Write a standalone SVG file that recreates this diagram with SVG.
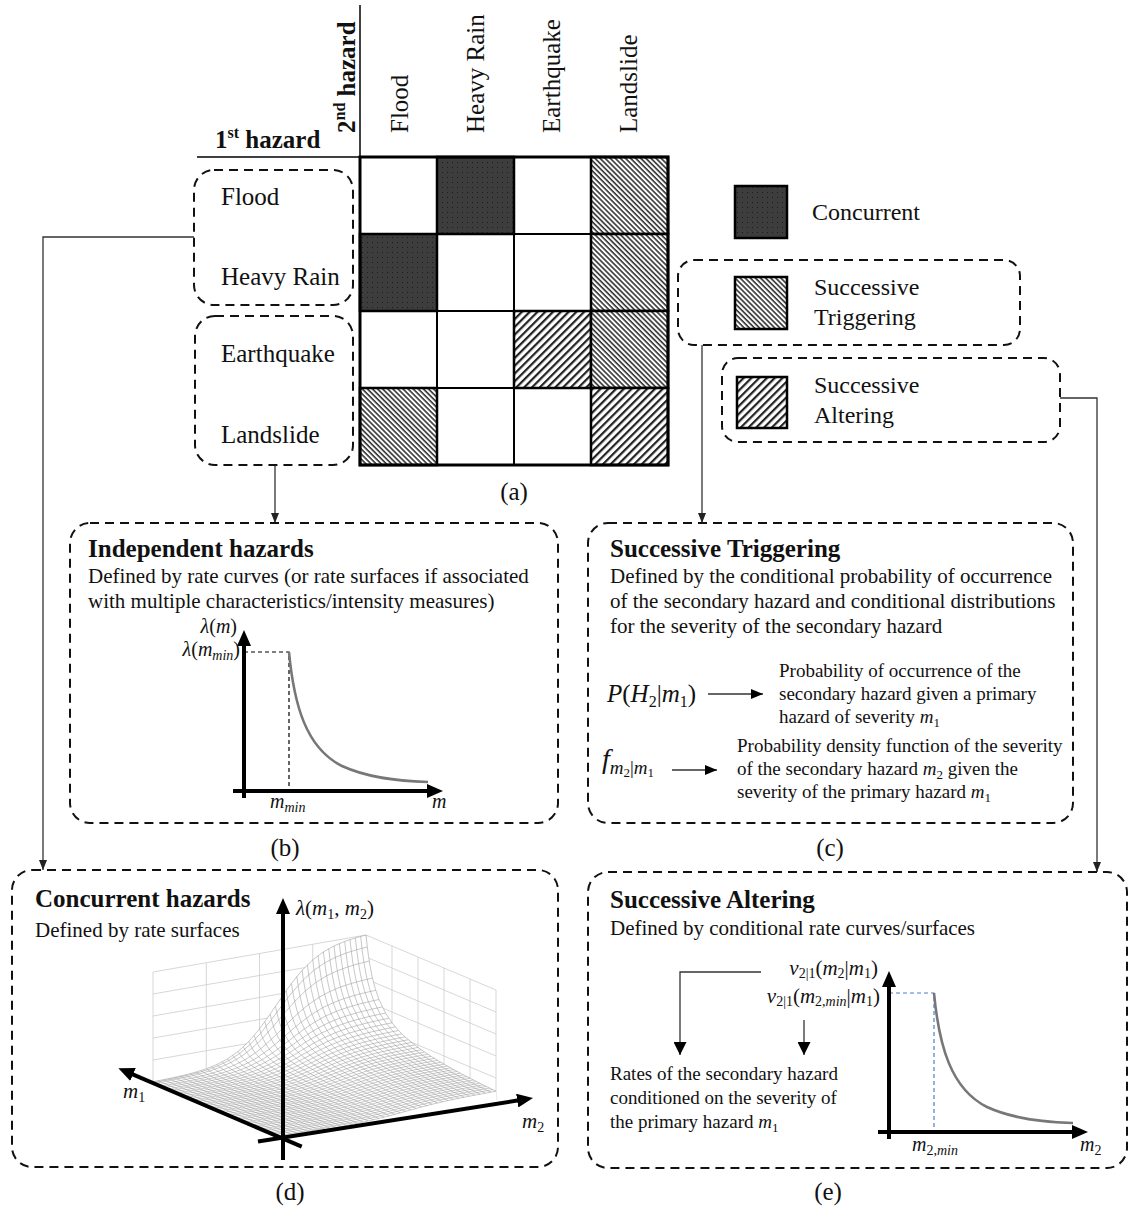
<svg xmlns="http://www.w3.org/2000/svg" width="1130" height="1209" viewBox="0 0 1130 1209">
<style>
text { font-family: "Liberation Serif", "Times New Roman", serif; fill: #111; }
.lbl { font-size: 25px; }
.leg { font-size: 24px; }
.ttl { font-size: 25px; font-weight: bold; }
.desc { font-size: 21px; }
.sm { font-size: 19px; }
.it { font-style: italic; }
.box { fill: none; stroke: #111; stroke-width: 2; stroke-dasharray: 9 6; }
.conn { fill: none; stroke: #333; stroke-width: 1.3; }
.axis { fill: none; stroke: #000; stroke-width: 4; }
.rule { fill: none; stroke: #000; stroke-width: 1.5; }
.cell { stroke: #000; stroke-width: 2.5; }
.grid { fill: none; stroke: #000; stroke-width: 2; }
.wall { fill: none; stroke: #cdcdcd; stroke-width: 0.8; }
.mesh { fill: none; stroke: #9a9a9a; }
.curve { fill: none; stroke: #777; stroke-width: 2.6; }
.guide { fill: none; stroke: #000; stroke-width: 1.2; stroke-dasharray: 4 3; }
.guideBlue { fill: none; stroke: #4a7fd4; stroke-width: 1.2; stroke-dasharray: 4 3; }
</style>
<defs>
  <pattern id="pDots" width="5" height="5" patternUnits="userSpaceOnUse">
    <rect width="5" height="5" fill="#3d3d3d"/>
    <rect x="2" y="2" width="1" height="1" fill="#1c1c1c"/>
  </pattern>
  <pattern id="pTrig" width="3.6" height="3.6" patternUnits="userSpaceOnUse" patternTransform="rotate(45)">
    <rect width="3.6" height="3.6" fill="#fff"/>
    <rect width="3.6" height="1.6" fill="#333"/>
  </pattern>
  <pattern id="pAlt" width="5.5" height="5.5" patternUnits="userSpaceOnUse" patternTransform="rotate(-45)">
    <rect width="5.5" height="5.5" fill="#fff"/>
    <rect width="5.5" height="2.2" fill="#222"/>
  </pattern>
  <marker id="arr" markerUnits="userSpaceOnUse" markerWidth="10" markerHeight="8" refX="10" refY="4" orient="auto">
    <path d="M0,0 L10,4 L0,8 z" fill="#222"/>
  </marker>
  <marker id="arrM" markerUnits="userSpaceOnUse" markerWidth="12" markerHeight="10" refX="12" refY="5" orient="auto">
    <path d="M0,0 L12,5 L0,10 z" fill="#000"/>
  </marker>
  <marker id="arrL" markerUnits="userSpaceOnUse" markerWidth="13" markerHeight="13" refX="13" refY="6.5" orient="auto">
    <path d="M0,0 L13,6.5 L0,13 z" fill="#000"/>
  </marker>
  <marker id="axHead" markerUnits="userSpaceOnUse" markerWidth="16" markerHeight="14" refX="8" refY="7" orient="auto">
    <path d="M0,0 L16,7 L0,14 z" fill="#000"/>
  </marker>
  <!-- profile along m1 (u, g(u)) and along m2 (v, f(v)) in unit coordinates -->
  <path id="gl" fill="none" vector-effect="non-scaling-stroke" stroke-width="0.55" d="M0,.0795 L.1,.0876 L.2,.0975 L.3,.1099 L.4,.1259 L.5,.1473 L.6,.1776 L.7,.2236 L.75,.2568 L.8,.3017 L.85,.3655 L.9,.4635 L.93,.5524 L.95,.6334 L.96,.6835 L.97,.7423 L.98,.812 L.99,.8963 L1,1"/>
  <path id="fl" fill="none" vector-effect="non-scaling-stroke" stroke-width="0.55" d="M0,.00307 L.05,.00504 L.1,.00828 L.15,.01358 L.2,.02221 L.25,.0361 L.3,.0582 L.35,.09249 L.4,.1439 L.45,.2174 L.5,.3147 L.55,.432 L.6,.5581 L.65,.6782 L.7,.78 L.75,.8582 L.8,.9137 L.85,.9511 L.9,.9752 L.95,.9906 L1,1"/>
</defs>

<rect width="1130" height="1209" fill="#fff"/>

<!-- header of the interaction matrix -->
<g id="header">
  <line class="rule" x1="360" y1="5" x2="360" y2="157"/>
  <line class="rule" x1="197" y1="157" x2="360" y2="157"/>
  <text class="ttl" x="215" y="148">1<tspan font-size="16" dy="-10">st</tspan><tspan dy="10"> hazard</tspan></text>
  <text class="ttl" transform="translate(355,133) rotate(-90)">2<tspan font-size="16" dy="-10">nd</tspan><tspan dy="10"> hazard</tspan></text>
  <text class="lbl" transform="translate(408,133) rotate(-90)">Flood</text>
  <text class="lbl" transform="translate(484,133) rotate(-90)">Heavy Rain</text>
  <text class="lbl" transform="translate(560,133) rotate(-90)">Earthquake</text>
  <text class="lbl" transform="translate(637,133) rotate(-90)">Landslide</text>
</g>

<!-- interaction matrix -->
<g id="matrix">
  <rect class="cell" x="437" y="157" width="77" height="77" fill="url(#pDots)"/>
  <rect class="cell" x="591" y="157" width="77" height="77" fill="url(#pTrig)"/>
  <rect class="cell" x="360" y="234" width="77" height="77" fill="url(#pDots)"/>
  <rect class="cell" x="591" y="234" width="77" height="77" fill="url(#pTrig)"/>
  <rect class="cell" x="514" y="311" width="77" height="77" fill="url(#pAlt)"/>
  <rect class="cell" x="591" y="311" width="77" height="77" fill="url(#pTrig)"/>
  <rect class="cell" x="360" y="388" width="77" height="77" fill="url(#pTrig)"/>
  <rect class="cell" x="591" y="388" width="77" height="77" fill="url(#pAlt)"/>
  <path class="grid" d="M437,157 V465 M514,157 V465 M591,157 V465 M360,234 H668 M360,311 H668 M360,388 H668"/>
  <rect x="360" y="157" width="308" height="308" fill="none" stroke="#000" stroke-width="3"/>
  <text class="lbl" x="514" y="500" text-anchor="middle">(a)</text>
</g>

<g id="rows-hydro">
  <rect class="box" x="194" y="170" width="159" height="135" rx="20"/>
  <text class="lbl" x="221" y="205">Flood</text>
  <text class="lbl" x="221" y="285">Heavy Rain</text>
</g>
<g id="rows-geo">
  <rect class="box" x="195" y="316" width="158" height="149" rx="20"/>
  <text class="lbl" x="221" y="362">Earthquake</text>
  <text class="lbl" x="221" y="443">Landslide</text>
</g>

<!-- legend -->
<g id="legend-concurrent">
  <rect class="cell" x="735" y="186" width="52" height="52" fill="url(#pDots)"/>
  <text class="leg" x="812" y="220">Concurrent</text>
</g>
<g id="legend-triggering">
  <rect class="box" x="678" y="260" width="342" height="85" rx="16"/>
  <rect class="cell" x="735" y="277" width="52" height="52" fill="url(#pTrig)"/>
  <text class="leg" x="814" y="295">Successive</text>
  <text class="leg" x="814" y="325">Triggering</text>
</g>
<g id="legend-altering">
  <rect class="box" x="722" y="358" width="338" height="84" rx="16"/>
  <rect class="cell" x="737" y="377" width="50" height="51" fill="url(#pAlt)"/>
  <text class="leg" x="814" y="393">Successive</text>
  <text class="leg" x="814" y="423">Altering</text>
</g>

<!-- connectors -->
<g id="connectors">
  <polyline class="conn" points="194,237 43,237 43,870" marker-end="url(#arr)"/>
  <polyline class="conn" points="275,466 275,523" marker-end="url(#arr)"/>
  <polyline class="conn" points="702,345 702,523" marker-end="url(#arr)"/>
  <polyline class="conn" points="1060,398 1097,398 1097,872" marker-end="url(#arr)"/>
</g>

<!-- (b) independent hazards -->
<g id="panel-b">
  <rect class="box" x="70" y="523" width="488" height="300" rx="20"/>
  <text class="ttl" x="88" y="557">Independent hazards</text>
  <text class="desc" x="88" y="583">Defined by rate curves (or rate surfaces if associated</text>
  <text class="desc" x="88" y="608">with multiple characteristics/intensity measures)</text>
  <path class="guide" d="M244,652 H289 V791"/>
  <path class="curve" d="M289,652 C294,705 306,748 342,766 C368,778 398,781 428,782"/>
  <line class="axis" x1="244" y1="798" x2="244" y2="638" marker-end="url(#axHead)"/>
  <line class="axis" x1="233" y1="791" x2="435" y2="791" marker-end="url(#axHead)"/>
  <text font-size="20" x="237" y="633" text-anchor="end"><tspan class="it">λ</tspan>(<tspan class="it">m</tspan>)</text>
  <text font-size="20" x="240" y="656" text-anchor="end"><tspan class="it">λ</tspan>(<tspan class="it">m</tspan><tspan class="it" font-size="14" dy="4">min</tspan><tspan dy="-4">)</tspan></text>
  <text font-size="20" x="270" y="808"><tspan class="it">m</tspan><tspan class="it" font-size="14" dy="4">min</tspan></text>
  <text font-size="20" x="432" y="808" class="it">m</text>
  <text class="lbl" x="285" y="856" text-anchor="middle">(b)</text>
</g>

<!-- (c) successive triggering -->
<g id="panel-c">
  <rect class="box" x="588" y="523" width="485" height="300" rx="20"/>
  <text class="ttl" x="610" y="557">Successive Triggering</text>
  <text class="desc" x="610" y="583">Defined by the conditional probability of occurrence</text>
  <text class="desc" x="610" y="608">of the secondary hazard and conditional distributions</text>
  <text class="desc" x="610" y="633">for the severity of the secondary hazard</text>
  <text font-size="25" x="607" y="702"><tspan class="it">P</tspan>(<tspan class="it">H</tspan><tspan font-size="16" dy="5">2</tspan><tspan dy="-5">|</tspan><tspan class="it">m</tspan><tspan font-size="16" dy="5">1</tspan><tspan dy="-5">)</tspan></text>
  <line class="conn" x1="708" y1="694" x2="763" y2="694" stroke="#000" marker-end="url(#arrM)"/>
  <text class="sm" x="779" y="677">Probability of occurrence of the</text>
  <text class="sm" x="779" y="700">secondary hazard given a primary</text>
  <text class="sm" x="779" y="723">hazard of severity <tspan class="it">m</tspan><tspan font-size="13" dy="4">1</tspan></text>
  <text font-size="28" x="602" y="768"><tspan class="it">f</tspan><tspan font-size="19" dy="6"><tspan class="it">m</tspan><tspan font-size="13" dy="3">2</tspan><tspan dy="-3">|</tspan><tspan class="it">m</tspan><tspan font-size="13" dy="3">1</tspan></tspan></text>
  <line class="conn" x1="672" y1="770" x2="717" y2="770" stroke="#000" marker-end="url(#arrM)"/>
  <text class="sm" x="737" y="752">Probability density function of the severity</text>
  <text class="sm" x="737" y="775">of the secondary hazard <tspan class="it">m</tspan><tspan font-size="13" dy="4">2</tspan><tspan dy="-4"> given the</tspan></text>
  <text class="sm" x="737" y="798">severity of the primary hazard <tspan class="it">m</tspan><tspan font-size="13" dy="4">1</tspan></text>
  <text class="lbl" x="830" y="856" text-anchor="middle">(c)</text>
</g>

<!-- (d) concurrent hazards: rate surface over (m1, m2) -->
<g id="panel-d">
  <rect class="box" x="12" y="870" width="546" height="297" rx="20"/>
  <text class="ttl" x="35" y="907">Concurrent hazards</text>
  <text class="desc" x="35" y="937">Defined by rate surfaces</text>

  <!-- back walls -->
  <g class="wall">
    <path d="M153,1082 V972 L366,935 V1045 M206.25,1072.75 v-110 M259.5,1063.5 v-110 M312.75,1054.25 v-110 M153,1060 L366,1023 M153,1038 L366,1001 M153,1016 L366,979 M153,994 L366,957"/>
    <path d="M366,935 L496,990 V1100 M392,1056 v-110 M418,1067 v-110 M444,1078 v-110 M470,1089 v-110 M366,1023 L496,1078 M366,1001 L496,1056 M366,979 L496,1034 M366,957 L496,1012"/>
  </g>
  <!-- surface silhouette hides the wall grid behind it -->
  <path fill="#fff" d="M283,1137 L153,1082 L153,1081.7 L174.3,1077.4 L195.6,1072.2 L216.9,1064.5 L238.2,1051.4 L248.9,1041.5 L259.5,1028.9 L270.2,1014.2 L280.8,998.4 L291.5,983.4 L302.1,970.3 L312.8,959.9 L323.4,951.9 L334.1,946 L344.7,941.4 L355.4,937.9 L366,935 L368.6,956.8 L371.2,972 L375.1,988.1 L379,999.5 L385.5,1013.1 L392,1022.8 L398.5,1030.5 L405,1036.9 L418,1047.5 L431,1056.3 L444,1064.2 L457,1071.4 L470,1078.3 L483,1084.9 L496,1091.3 L496,1100 Z"/>
  <!-- mesh lines of constant m2 -->
  <g class="mesh">
    <use href="#gl" transform="matrix(-130 -55 0 -.337 283 1137)"/>
    <use href="#gl" transform="matrix(-130 -55 0 -.432 288.325 1136.075)"/>
    <use href="#gl" transform="matrix(-130 -55 0 -.555 293.65 1135.15)"/>
    <use href="#gl" transform="matrix(-130 -55 0 -.711 298.975 1134.225)"/>
    <use href="#gl" transform="matrix(-130 -55 0 -.911 304.3 1133.3)"/>
    <use href="#gl" transform="matrix(-130 -55 0 -1.168 309.625 1132.375)"/>
    <use href="#gl" transform="matrix(-130 -55 0 -1.494 314.95 1131.45)"/>
    <use href="#gl" transform="matrix(-130 -55 0 -1.912 320.275 1130.525)"/>
    <use href="#gl" transform="matrix(-130 -55 0 -2.443 325.6 1129.6)"/>
    <use href="#gl" transform="matrix(-130 -55 0 -3.118 330.925 1128.675)"/>
    <use href="#gl" transform="matrix(-130 -55 0 -3.971 336.25 1127.75)"/>
    <use href="#gl" transform="matrix(-130 -55 0 -5.047 341.575 1126.825)"/>
    <use href="#gl" transform="matrix(-130 -55 0 -6.402 346.9 1125.9)"/>
    <use href="#gl" transform="matrix(-130 -55 0 -8.086 352.225 1124.975)"/>
    <use href="#gl" transform="matrix(-130 -55 0 -10.17 357.55 1124.05)"/>
    <use href="#gl" transform="matrix(-130 -55 0 -12.734 362.875 1123.125)"/>
    <use href="#gl" transform="matrix(-130 -55 0 -15.83 368.2 1122.2)"/>
    <use href="#gl" transform="matrix(-130 -55 0 -19.548 373.525 1121.275)"/>
    <use href="#gl" transform="matrix(-130 -55 0 -23.92 378.85 1120.35)"/>
    <use href="#gl" transform="matrix(-130 -55 0 -28.942 384.175 1119.425)"/>
    <use href="#gl" transform="matrix(-130 -55 0 -34.61 389.5 1118.5)"/>
    <use href="#gl" transform="matrix(-130 -55 0 -40.848 394.825 1117.575)"/>
    <use href="#gl" transform="matrix(-130 -55 0 -47.52 400.15 1116.65)"/>
    <use href="#gl" transform="matrix(-130 -55 0 -54.429 405.475 1115.725)"/>
    <use href="#gl" transform="matrix(-130 -55 0 -61.39 410.8 1114.8)"/>
    <use href="#gl" transform="matrix(-130 -55 0 -68.179 416.125 1113.875)"/>
    <use href="#gl" transform="matrix(-130 -55 0 -74.61 421.45 1112.95)"/>
    <use href="#gl" transform="matrix(-130 -55 0 -80.518 426.775 1112.025)"/>
    <use href="#gl" transform="matrix(-130 -55 0 -85.8 432.1 1111.1)"/>
    <use href="#gl" transform="matrix(-130 -55 0 -90.448 437.425 1110.175)"/>
    <use href="#gl" transform="matrix(-130 -55 0 -94.4 442.75 1109.25)"/>
    <use href="#gl" transform="matrix(-130 -55 0 -97.746 448.075 1108.325)"/>
    <use href="#gl" transform="matrix(-130 -55 0 -100.51 453.4 1107.4)"/>
    <use href="#gl" transform="matrix(-130 -55 0 -102.78 458.725 1106.475)"/>
    <use href="#gl" transform="matrix(-130 -55 0 -104.62 464.05 1105.55)"/>
    <use href="#gl" transform="matrix(-130 -55 0 -106.1 469.375 1104.625)"/>
    <use href="#gl" transform="matrix(-130 -55 0 -107.27 474.7 1103.7)"/>
    <use href="#gl" transform="matrix(-130 -55 0 -108.21 480.025 1102.775)"/>
    <use href="#gl" transform="matrix(-130 -55 0 -108.96 485.35 1101.85)"/>
    <use href="#gl" transform="matrix(-130 -55 0 -109.54 490.675 1100.925)"/>
    <use href="#gl" transform="matrix(-130 -55 0 -110 496 1100)"/>
  </g>
  <!-- mesh lines of constant m1 -->
  <g class="mesh">
    <use href="#fl" transform="matrix(213 -37 0 -8.745 283 1137)"/>
    <use href="#fl" transform="matrix(213 -37 0 -8.954 279.75 1135.625)"/>
    <use href="#fl" transform="matrix(213 -37 0 -9.174 276.5 1134.25)"/>
    <use href="#fl" transform="matrix(213 -37 0 -9.397 273.25 1132.875)"/>
    <use href="#fl" transform="matrix(213 -37 0 -9.636 270 1131.5)"/>
    <use href="#fl" transform="matrix(213 -37 0 -9.886 266.75 1130.125)"/>
    <use href="#fl" transform="matrix(213 -37 0 -10.153 263.5 1128.75)"/>
    <use href="#fl" transform="matrix(213 -37 0 -10.428 260.25 1127.375)"/>
    <use href="#fl" transform="matrix(213 -37 0 -10.725 257 1126)"/>
    <use href="#fl" transform="matrix(213 -37 0 -11.033 253.75 1124.625)"/>
    <use href="#fl" transform="matrix(213 -37 0 -11.363 250.5 1123.25)"/>
    <use href="#fl" transform="matrix(213 -37 0 -11.713 247.25 1121.875)"/>
    <use href="#fl" transform="matrix(213 -37 0 -12.089 244 1120.5)"/>
    <use href="#fl" transform="matrix(213 -37 0 -12.483 240.75 1119.125)"/>
    <use href="#fl" transform="matrix(213 -37 0 -12.903 237.5 1117.75)"/>
    <use href="#fl" transform="matrix(213 -37 0 -13.36 234.25 1116.375)"/>
    <use href="#fl" transform="matrix(213 -37 0 -13.849 231 1115)"/>
    <use href="#fl" transform="matrix(213 -37 0 -14.369 227.75 1113.625)"/>
    <use href="#fl" transform="matrix(213 -37 0 -14.938 224.5 1112.25)"/>
    <use href="#fl" transform="matrix(213 -37 0 -15.544 221.25 1110.875)"/>
    <use href="#fl" transform="matrix(213 -37 0 -16.203 218 1109.5)"/>
    <use href="#fl" transform="matrix(213 -37 0 -16.929 214.75 1108.125)"/>
    <use href="#fl" transform="matrix(213 -37 0 -17.721 211.5 1106.75)"/>
    <use href="#fl" transform="matrix(213 -37 0 -18.585 208.25 1105.375)"/>
    <use href="#fl" transform="matrix(213 -37 0 -19.536 205 1104)"/>
    <use href="#fl" transform="matrix(213 -37 0 -20.599 201.75 1102.625)"/>
    <use href="#fl" transform="matrix(213 -37 0 -21.78 198.5 1101.25)"/>
    <use href="#fl" transform="matrix(213 -37 0 -23.101 195.25 1099.875)"/>
    <use href="#fl" transform="matrix(213 -37 0 -24.596 192 1098.5)"/>
    <use href="#fl" transform="matrix(213 -37 0 -26.298 188.75 1097.125)"/>
    <use href="#fl" transform="matrix(213 -37 0 -28.248 185.5 1095.75)"/>
    <use href="#fl" transform="matrix(213 -37 0 -30.521 182.25 1094.375)"/>
    <use href="#fl" transform="matrix(213 -37 0 -33.187 179 1093)"/>
    <use href="#fl" transform="matrix(213 -37 0 -36.358 175.75 1091.625)"/>
    <use href="#fl" transform="matrix(213 -37 0 -40.205 172.5 1090.25)"/>
    <use href="#fl" transform="matrix(213 -37 0 -44.958 169.25 1088.875)"/>
    <use href="#fl" transform="matrix(213 -37 0 -50.985 166 1087.5)"/>
    <use href="#fl" transform="matrix(213 -37 0 -58.885 162.75 1086.125)"/>
    <use href="#fl" transform="matrix(213 -37 0 -69.674 159.5 1084.75)"/>
    <use href="#fl" transform="matrix(213 -37 0 -85.314 156.25 1083.375)"/>
    <use href="#fl" transform="matrix(213 -37 0 -98.59 154.3 1082.55)"/>
    <use href="#fl" transform="matrix(213 -37 0 -110 153 1082)"/>
  </g>
  <!-- axes -->
  <line class="axis" x1="283" y1="1160" x2="283" y2="906" marker-end="url(#axHead)"/>
  <line class="axis" x1="301.7" y1="1146.7" x2="125.7" y2="1071.4" marker-end="url(#axHead)"/>
  <line class="axis" x1="258" y1="1141.5" x2="525.1" y2="1099.3" marker-end="url(#axHead)"/>
  <text font-size="21" x="296" y="915"><tspan class="it">λ</tspan>(<tspan class="it">m</tspan><tspan font-size="14" dy="4">1</tspan><tspan dy="-4">, </tspan><tspan class="it">m</tspan><tspan font-size="14" dy="4">2</tspan><tspan dy="-4">)</tspan></text>
  <text font-size="21" x="123" y="1098"><tspan class="it">m</tspan><tspan font-size="14" dy="4">1</tspan></text>
  <text font-size="21" x="522" y="1128"><tspan class="it">m</tspan><tspan font-size="14" dy="4">2</tspan></text>
  <text class="lbl" x="290" y="1200" text-anchor="middle">(d)</text>
</g>

<!-- (e) successive altering -->
<g id="panel-e">
  <rect class="box" x="588" y="872" width="539" height="296" rx="20"/>
  <text class="ttl" x="610" y="908">Successive Altering</text>
  <text class="desc" x="610" y="935">Defined by conditional rate curves/surfaces</text>
  <text font-size="21" x="878" y="975" text-anchor="end"><tspan class="it">ν</tspan><tspan font-size="14" dy="3">2|1</tspan><tspan dy="-3">(</tspan><tspan class="it">m</tspan><tspan font-size="14" dy="3">2</tspan><tspan dy="-3">|</tspan><tspan class="it">m</tspan><tspan font-size="14" dy="3">1</tspan><tspan dy="-3">)</tspan></text>
  <text font-size="21" x="880" y="1003" text-anchor="end"><tspan class="it">ν</tspan><tspan font-size="14" dy="3">2|1</tspan><tspan dy="-3">(</tspan><tspan class="it">m</tspan><tspan font-size="14" dy="3">2,<tspan class="it">min</tspan></tspan><tspan dy="-3">|</tspan><tspan class="it">m</tspan><tspan font-size="14" dy="3">1</tspan><tspan dy="-3">)</tspan></text>
  <polyline class="conn" points="761,972 680,972 680,1055" stroke="#000" marker-end="url(#arrL)"/>
  <line class="conn" x1="804" y1="1020" x2="804" y2="1055" stroke="#000" marker-end="url(#arrL)"/>
  <text class="sm" x="610" y="1080">Rates of the secondary hazard</text>
  <text class="sm" x="610" y="1104">conditioned on the severity of</text>
  <text class="sm" x="610" y="1128">the primary hazard <tspan class="it">m</tspan><tspan font-size="13" dy="4">1</tspan></text>
  <path class="guideBlue" d="M889,993 H934 V1132"/>
  <path class="curve" d="M934,993 C939,1046 951,1089 987,1107 C1013,1119 1043,1122 1073,1123"/>
  <line class="axis" x1="889" y1="1139" x2="889" y2="979" marker-end="url(#axHead)"/>
  <line class="axis" x1="878" y1="1132" x2="1080" y2="1132" marker-end="url(#axHead)"/>
  <text font-size="20" x="912" y="1151"><tspan class="it">m</tspan><tspan font-size="14" dy="4">2,<tspan class="it">min</tspan></tspan></text>
  <text font-size="20" x="1080" y="1151"><tspan class="it">m</tspan><tspan font-size="14" dy="4">2</tspan></text>
  <text class="lbl" x="828" y="1200" text-anchor="middle">(e)</text>
</g>
</svg>
